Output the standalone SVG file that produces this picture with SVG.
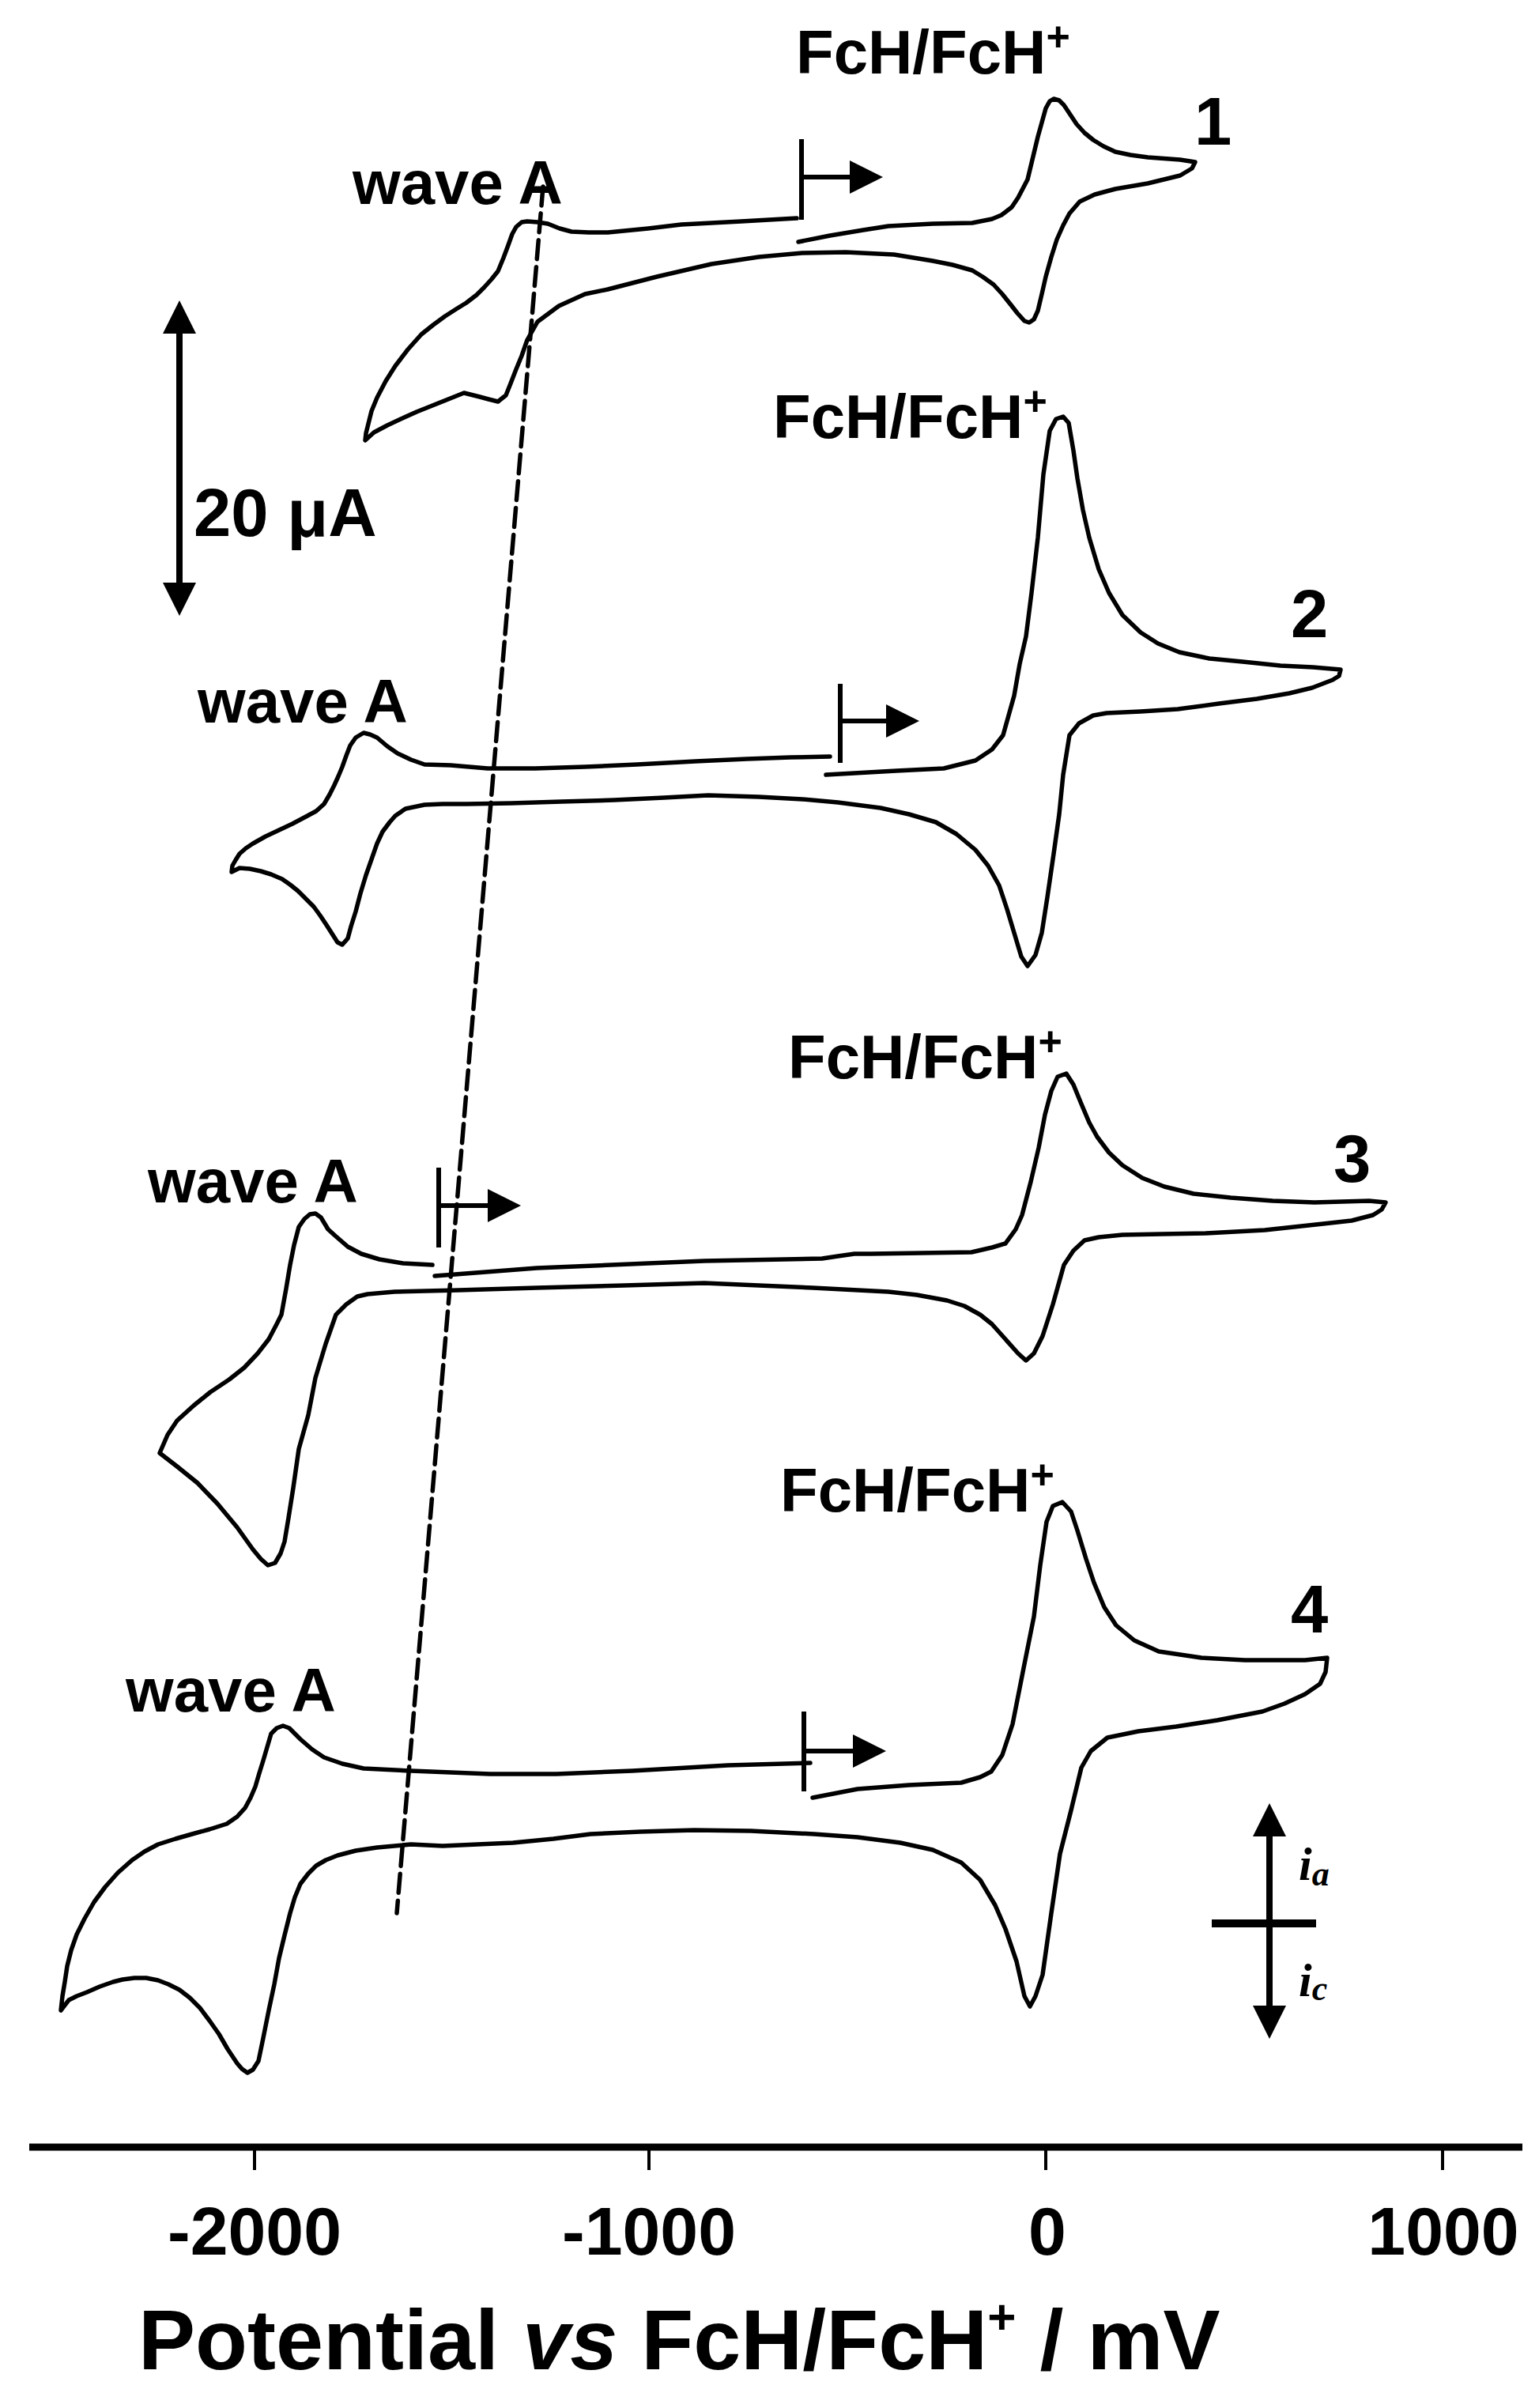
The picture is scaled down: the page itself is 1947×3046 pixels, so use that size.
<svg xmlns="http://www.w3.org/2000/svg" width="1947" height="3046" viewBox="0 0 1947 3046">
<style>
.cv{fill:none;stroke:#000;stroke-width:5.5;stroke-linejoin:round;stroke-linecap:round}
.lbl{font-family:"Liberation Sans",Arial,sans-serif;font-weight:bold;font-size:78px;fill:#000}
.num{font-family:"Liberation Sans",Arial,sans-serif;font-weight:bold;font-size:85px;fill:#000}
.tick{font-family:"Liberation Sans",Arial,sans-serif;font-weight:bold;font-size:86px;fill:#000;text-anchor:middle}
.ttl{font-family:"Liberation Sans",Arial,sans-serif;font-weight:bold;font-size:108px;fill:#000}
.sym{font-family:"Liberation Serif","Times New Roman",serif;font-weight:bold;font-style:italic;fill:#000}
.mk{stroke:#000;stroke-width:6;fill:none}
.ar{stroke:#000;stroke-width:8;fill:none}
</style>
<defs>
<marker id="ah" markerUnits="userSpaceOnUse" viewBox="0 0 42 42" markerWidth="42" markerHeight="42" refX="0" refY="21" orient="auto-start-reverse"><path d="M0,0 L42,21 L0,42 z" fill="#000"/></marker>
</defs>
<rect x="0" y="0" width="1947" height="3046" fill="#fff"/>

<g id="axis">
<line x1="37" y1="2716" x2="1926" y2="2716" stroke="#000" stroke-width="9"/>
<g stroke="#000" stroke-width="4">
<line x1="322" y1="2716" x2="322" y2="2745"/>
<line x1="821" y1="2716" x2="821" y2="2745"/>
<line x1="1323" y1="2716" x2="1323" y2="2745"/>
<line x1="1825" y1="2716" x2="1825" y2="2745"/>
</g>
<text class="tick" x="322" y="2852">-2000</text>
<text class="tick" x="821" y="2852">-1000</text>
<text class="tick" x="1325" y="2852">0</text>
<text class="tick" x="1826" y="2852">1000</text>
<text class="ttl" x="175" y="2997">Potential <tspan font-style="italic">vs</tspan> FcH/FcH<tspan font-size="62" dy="-45">+</tspan><tspan dy="45"> / mV</tspan></text>
</g>

<g id="connectors">
<path class="cv" d="M687,236 L502,2420" stroke-width="3" stroke-dasharray="24 10" stroke-linecap="butt"/>
</g>

<g id="curve1">
<path class="cv" stroke-width="7" d="M1010,306 L1050,298 L1092,291 L1124,286 L1180,283 L1230,282 L1255,277 L1267,272 L1280,262 L1288,250 L1300,227 L1313,173 L1323,137 L1328,128 L1333,125 L1340,127 L1346,133 L1354,145 L1362,157 L1372,168 L1383,177 L1396,185 L1411,192 L1430,196 L1452,199 L1493,202 L1512,205 L1508,213 L1493,222 L1452,232 L1411,239 L1385,246 L1366,255 L1353,270 L1345,285 L1337,303 L1330,325 L1323,350 L1318,372 L1313,393 L1308,404 L1302,408 L1296,406 L1287,396 L1280,387 L1268,372 L1257,360 L1243,350 L1230,342 L1205,335 L1180,330 L1131,322 L1070,319 L1015,320 L960,325 L900,334 L831,350 L769,366 L740,372 L707,387 L680,407 L667,430 L660,450 L653,467 L646,485 L640,500 L630,508 L618,505 L607,502 L587,497 L567,505 L547,513 L527,521 L507,530 L490,538 L473,547 L462,557 L463,548 L465,540 L470,520 L477,503 L488,482 L500,463 L516,442 L533,423 L548,411 L563,400 L577,391 L590,383 L603,373 L613,363 L622,353 L630,343 L637,326 L643,310 L648,296 L653,287 L660,281 L667,280 L680,281 L693,283 L708,289 L723,293 L745,294 L769,294 L820,289 L862,284 L938,280 L1008,276"/>
<line class="mk" x1="1014" y1="176" x2="1014" y2="278"/>
<line class="mk" x1="1014" y1="224" x2="1075" y2="224" marker-end="url(#ah)"/>
<text class="lbl" x="1007" y="93">FcH/FcH<tspan font-size="52" dy="-29">+</tspan></text>
<text class="num" x="1511" y="183">1</text>
<text class="lbl" x="446" y="258">wave A</text>
</g>

<g id="curve2">
<path class="cv" d="M1045,980 L1134,975 L1194,972 L1234,962 L1255,948 L1269,930 L1283,880 L1290,840 L1298,805 L1305,750 L1313,680 L1320,600 L1328,545 L1336,530 L1345,527 L1352,535 L1358,570 L1363,605 L1370,645 L1378,680 L1390,720 L1403,750 L1420,778 L1443,800 L1465,814 L1492,825 L1530,833 L1572,837 L1620,842 L1661,844 L1696,847 L1694,855 L1686,860 L1660,870 L1631,877 L1590,884 L1542,890 L1490,897 L1443,900 L1400,902 L1383,905 L1365,915 L1353,930 L1345,980 L1340,1030 L1333,1080 L1325,1135 L1318,1180 L1310,1208 L1300,1222 L1292,1210 L1283,1180 L1274,1150 L1264,1120 L1250,1095 L1234,1075 L1210,1055 L1184,1040 L1150,1030 L1114,1022 L1060,1015 L1015,1011 L960,1008 L896,1006 L840,1009 L777,1012 L710,1014 L647,1016 L590,1017 L560,1017 L537,1018 L513,1023 L500,1032 L493,1040 L484,1052 L477,1067 L470,1087 L463,1107 L456,1130 L450,1153 L444,1172 L440,1187 L433,1195 L427,1192 L420,1181 L413,1170 L405,1158 L397,1147 L387,1137 L377,1127 L367,1119 L357,1112 L343,1106 L330,1102 L316,1099 L303,1098 L293,1103 L294,1095 L298,1088 L303,1080 L311,1073 L320,1067 L336,1058 L353,1050 L370,1042 L387,1033 L400,1026 L410,1017 L417,1005 L423,993 L428,982 L433,970 L438,956 L443,943 L450,933 L460,927 L468,929 L477,933 L490,944 L503,953 L520,961 L537,967 L570,968 L617,972 L677,972 L740,970 L806,967 L880,963 L945,960 L1000,958 L1050,957"/>
<line class="mk" x1="1063" y1="865" x2="1063" y2="965"/>
<line class="mk" x1="1063" y1="912" x2="1121" y2="912" marker-end="url(#ah)"/>
<text class="lbl" x="978" y="554">FcH/FcH<tspan font-size="52" dy="-29">+</tspan></text>
<text class="num" x="1633" y="806">2</text>
<text class="lbl" x="250" y="914">wave A</text>
</g>

<g id="curve3">
<path class="cv" d="M550,1614 L679,1604 L891,1595 L1040,1592 L1060,1589 L1081,1586 L1102,1586 L1229,1584 L1255,1578 L1272,1573 L1285,1555 L1293,1537 L1304,1495 L1314,1452 L1322,1410 L1330,1380 L1338,1362 L1349,1358 L1358,1372 L1367,1394 L1378,1420 L1388,1438 L1403,1458 L1420,1474 L1445,1490 L1473,1501 L1510,1510 L1557,1515 L1610,1519 L1663,1521 L1732,1519 L1753,1521 L1748,1530 L1737,1537 L1710,1544 L1674,1548 L1600,1556 L1526,1560 L1470,1561 L1420,1562 L1390,1565 L1372,1569 L1358,1582 L1346,1600 L1332,1650 L1319,1690 L1308,1712 L1298,1721 L1288,1712 L1272,1694 L1255,1675 L1240,1663 L1220,1652 L1198,1645 L1160,1638 L1124,1634 L1028,1629 L960,1626 L891,1623 L790,1626 L679,1629 L580,1632 L499,1634 L465,1637 L452,1640 L438,1650 L425,1663 L412,1700 L399,1743 L390,1790 L378,1833 L371,1882 L365,1920 L360,1950 L355,1965 L348,1977 L339,1980 L330,1972 L320,1960 L300,1932 L275,1902 L250,1876 L224,1855 L202,1838 L212,1815 L224,1797 L245,1778 L266,1761 L290,1745 L309,1730 L326,1712 L340,1694 L350,1675 L356,1663 L362,1630 L367,1600 L372,1575 L378,1552 L385,1542 L392,1536 L399,1535 L406,1540 L415,1555 L425,1564 L440,1577 L457,1586 L480,1593 L510,1598 L547,1600"/>
<line class="mk" x1="555" y1="1477" x2="555" y2="1578"/>
<line class="mk" x1="555" y1="1525" x2="617" y2="1525" marker-end="url(#ah)"/>
<text class="lbl" x="997" y="1364">FcH/FcH<tspan font-size="52" dy="-29">+</tspan></text>
<text class="num" x="1687" y="1495">3</text>
<text class="lbl" x="187" y="1521">wave A</text>
</g>

<g id="curve4">
<path class="cv" d="M1028,2274 L1085,2263 L1150,2258 L1216,2255 L1240,2248 L1254,2241 L1268,2220 L1281,2181 L1295,2110 L1308,2045 L1316,1980 L1324,1925 L1332,1905 L1344,1900 L1355,1912 L1363,1936 L1374,1972 L1384,2002 L1397,2033 L1412,2056 L1435,2075 L1466,2089 L1520,2097 L1575,2100 L1651,2100 L1679,2097 L1677,2115 L1670,2130 L1651,2143 L1625,2155 L1597,2165 L1540,2176 L1488,2184 L1440,2190 L1401,2198 L1380,2215 L1368,2236 L1355,2290 L1341,2345 L1330,2420 L1319,2498 L1310,2525 L1303,2538 L1296,2525 L1286,2481 L1272,2440 L1259,2410 L1240,2378 L1216,2356 L1180,2340 L1139,2331 L1085,2324 L1030,2320 L950,2316 L878,2315 L810,2317 L747,2320 L700,2326 L649,2331 L560,2335 L520,2333 L477,2337 L450,2341 L427,2347 L412,2353 L400,2360 L390,2370 L380,2383 L373,2400 L367,2420 L360,2448 L353,2477 L347,2510 L340,2543 L333,2578 L327,2607 L320,2618 L313,2622 L306,2617 L300,2610 L288,2592 L277,2573 L265,2556 L253,2540 L240,2527 L227,2517 L213,2510 L200,2505 L185,2502 L170,2502 L155,2504 L143,2507 L126,2513 L110,2520 L97,2525 L87,2530 L77,2543 L79,2525 L82,2507 L85,2487 L90,2467 L97,2447 L107,2427 L119,2406 L133,2387 L149,2369 L167,2353 L183,2342 L200,2333 L222,2326 L243,2320 L265,2314 L287,2307 L300,2298 L310,2287 L317,2274 L323,2260 L328,2243 L333,2227 L338,2210 L343,2193 L350,2186 L358,2183 L366,2186 L373,2193 L380,2200 L395,2213 L410,2223 L433,2231 L460,2237 L520,2240 L620,2244 L704,2244 L800,2240 L921,2233 L1025,2230"/>
<line class="mk" x1="1017" y1="2165" x2="1017" y2="2266"/>
<line class="mk" x1="1017" y1="2215" x2="1079" y2="2215" marker-end="url(#ah)"/>
<text class="lbl" x="987" y="1912">FcH/FcH<tspan font-size="52" dy="-29">+</tspan></text>
<text class="num" x="1633" y="2065">4</text>
<text class="lbl" x="159" y="2165">wave A</text>
</g>

<g id="scalebar">
<line class="ar" x1="227" y1="422" x2="227" y2="737" marker-start="url(#ah)" marker-end="url(#ah)"/>
<text class="num" x="245" y="678" font-size="84">20 μA</text>
</g>

<g id="current-sign">
<line class="ar" x1="1606" y1="2323" x2="1606" y2="2537" marker-start="url(#ah)" marker-end="url(#ah)"/>
<line x1="1533" y1="2433" x2="1665" y2="2433" stroke="#000" stroke-width="10"/>
<text class="sym" x="1643" y="2378" font-size="60">i<tspan font-size="44" dy="7">a</tspan></text>
<text class="sym" x="1643" y="2525" font-size="60">i<tspan font-size="44" dy="5">c</tspan></text>
</g>
</svg>
